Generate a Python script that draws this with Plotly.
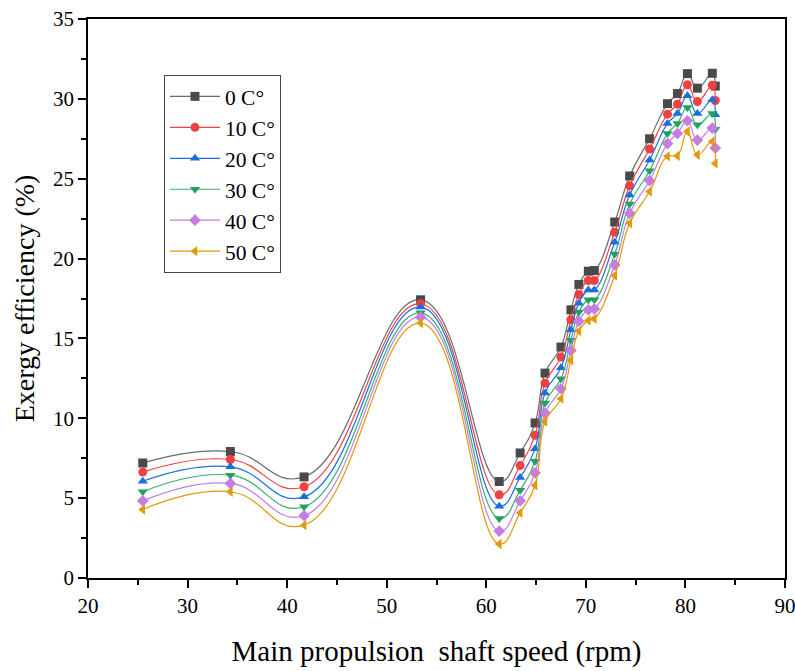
import plotly.graph_objects as go

speed = [25.5, 34.3, 41.7, 53.4, 61.3, 63.4, 64.9, 65.9, 67.5, 68.5, 69.3, 70.25, 70.85,
         72.9, 74.4, 76.4, 78.2, 79.2, 80.2, 81.2, 82.7, 83.0]

eff_0 = [7.2, 7.92, 6.33, 17.42, 6.04, 7.83, 9.71, 12.83, 14.46, 16.79, 18.38, 19.21, 19.25,
         22.29, 25.17, 27.5, 29.7, 30.33, 31.58, 30.67, 31.6, 30.8]
eff_10 = [6.63, 7.42, 5.71, 17.17, 5.21, 7.04, 8.94, 12.2, 13.83, 16.17, 17.75, 18.63, 18.63,
          21.65, 24.56, 26.86, 29.04, 29.67, 30.88, 29.83, 30.85, 29.9]
eff_20 = [6.06, 6.96, 5.08, 16.96, 4.5, 6.29, 8.1, 11.58, 13.17, 15.54, 17.21, 18.04, 18.04,
          21.02, 23.98, 26.17, 28.46, 29.08, 30.19, 29.08, 29.95, 29.0]
eff_30 = [5.4, 6.44, 4.46, 16.6, 3.73, 5.5, 7.31, 10.96, 12.48, 14.88, 16.65, 17.42, 17.42,
          20.29, 23.42, 25.5, 27.83, 28.46, 29.46, 28.38, 29.08, 28.1]
eff_40 = [4.83, 5.92, 3.9, 16.33, 2.94, 4.83, 6.58, 10.33, 11.85, 14.25, 16.08, 16.79, 16.85,
          19.6, 22.83, 24.88, 27.2, 27.83, 28.63, 27.42, 28.17, 26.92]
eff_50 = [4.29, 5.4, 3.31, 15.96, 2.13, 4.08, 5.81, 9.8, 11.23, 13.63, 15.46, 16.13, 16.23,
          18.94, 22.21, 24.2, 26.4, 26.44, 27.96, 26.5, 27.33, 25.96]

series_names = ["0 C°", "10 C°", "20 C°", "30 C°", "40 C°", "50 C°"]
series_values = [eff_0, eff_10, eff_20, eff_30, eff_40, eff_50]
line_colors = ["#6a6a6a", "#F14040", "#1A6FDF", "#37AD6B", "#C07FE3", "#E09A0A"]
marker_colors = ["#4a4a4a", "#F14040", "#1A6FDF", "#22A060", "#C77CE0", "#E09A0A"]
symbols = ["square", "circle", "triangle-up", "triangle-down", "diamond", "triangle-left"]

fig = go.Figure()
for name, vals, lc, mc, sym in zip(series_names, series_values, line_colors, marker_colors, symbols):
    fig.add_trace(go.Scatter(
        x=speed, y=vals, name=name, mode="lines+markers",
        line=dict(color=lc, width=1.2, shape="spline", smoothing=1.3),
        marker=dict(symbol=sym, color=mc, size=9, line=dict(width=0)),
    ))

font_family = "Liberation Serif, Times New Roman, serif"
fig.update_layout(
    width=795, height=671,
    margin=dict(l=88, r=10, t=19, b=93, autoexpand=False),
    paper_bgcolor="white", plot_bgcolor="white",
    font=dict(family=font_family, color="black", size=20),
    legend=dict(
        x=0.109, y=0.9, xanchor="left", yanchor="top",
        bordercolor="#444444", borderwidth=1, bgcolor="white",
        font=dict(size=21.5, family=font_family),
        itemwidth=50, tracegroupgap=0,
    ),
    xaxis=dict(
        range=[20, 90], tickvals=[20, 30, 40, 50, 60, 70, 80, 90],
        ticks="outside", ticklen=8, tickwidth=1.5, tickcolor="black",
        showline=True, linecolor="black", linewidth=1.5, mirror=True,
        showgrid=False, zeroline=False, automargin=False,
        ticklabeloverflow="allow",
        minor=dict(ticks="outside", ticklen=5, tickwidth=1.5, tickcolor="black", dtick=5),
        title=dict(text="Main propulsion\u00a0 shaft speed (rpm)", font=dict(size=29), standoff=24),
        tickfont=dict(size=21),
    ),
    yaxis=dict(
        range=[0, 35], tickvals=[0, 5, 10, 15, 20, 25, 30, 35],
        ticks="outside", ticklen=8, tickwidth=1.5, tickcolor="black",
        showline=True, linecolor="black", linewidth=1.5, mirror=True,
        showgrid=False, zeroline=False, automargin=False,
        ticklabeloverflow="allow",
        minor=dict(ticks="outside", ticklen=5, tickwidth=1.5, tickcolor="black", dtick=2.5),
        title=dict(text="Exergy efficiency (%)", font=dict(size=28), standoff=10),
        tickfont=dict(size=21),
    ),
)

fig.write_html("out.html")
